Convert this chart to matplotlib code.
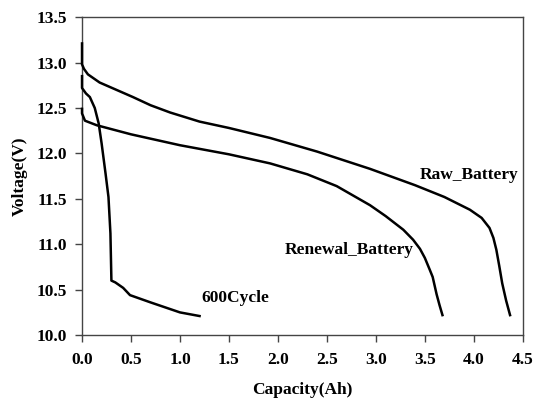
import numpy as np
import matplotlib.pyplot as plt

# Discharge curves
raw_cap = [0.0, 0.0, 0.02, 0.06, 0.18, 0.35, 0.52, 0.7, 0.9, 1.2, 1.5, 1.92, 2.4, 2.94, 3.4, 3.7, 3.96, 4.08, 4.16, 4.2, 4.23, 4.26, 4.29, 4.33, 4.37]
raw_v = [13.21, 12.98, 12.93, 12.87, 12.78, 12.7, 12.62, 12.53, 12.45, 12.35, 12.28, 12.17, 12.02, 11.83, 11.65, 11.52, 11.38, 11.29, 11.18, 11.07, 10.94, 10.76, 10.57, 10.38, 10.22]

ren_cap = [0.0, 0.0, 0.03, 0.15, 0.5, 1.0, 1.5, 1.92, 2.3, 2.6, 2.94, 3.1, 3.28, 3.38, 3.45, 3.5, 3.55, 3.58, 3.62, 3.65, 3.68]
ren_v = [12.49, 12.44, 12.36, 12.31, 12.21, 12.09, 11.99, 11.89, 11.77, 11.64, 11.43, 11.31, 11.16, 11.05, 10.95, 10.85, 10.72, 10.64, 10.45, 10.33, 10.22]

cyc_cap = [0.0, 0.0, 0.04, 0.08, 0.13, 0.17, 0.2, 0.24, 0.27, 0.29, 0.3, 0.34, 0.42, 0.49, 0.7, 1.0, 1.2]
cyc_v = [12.85, 12.72, 12.66, 12.62, 12.5, 12.33, 12.11, 11.78, 11.52, 11.12, 10.6, 10.58, 10.52, 10.44, 10.36, 10.25, 10.21]

plt.rcParams['font.family'] = ['Liberation Serif', 'DejaVu Serif']
plt.rcParams['font.weight'] = 'bold'

fig = plt.figure(figsize=(5.34, 3.98), dpi=100)
ax = fig.add_axes([0.1536, 0.158, 0.8254, 0.799])

for cap, v in [(raw_cap, raw_v), (ren_cap, ren_v), (cyc_cap, cyc_v)]:
    ax.plot(cap, v, color='black', lw=1.8, clip_on=False, zorder=3,
            solid_joinstyle='round')

ax.text(3.45, 11.76, 'Raw_Battery', fontsize=12.5, fontweight='bold', va='center')
ax.text(2.07, 10.94, 'Renewal_Battery', fontsize=12.5, fontweight='bold', va='center')
ax.text(1.22, 10.41, '600Cycle', fontsize=12.5, fontweight='bold', va='center')

ax.set_xlim(0, 4.5)
ax.set_ylim(10.0, 13.5)
ax.set_xticks(np.arange(0, 4.51, 0.5))
ax.set_yticks(np.arange(10.0, 13.51, 0.5))
ax.xaxis.set_major_formatter(plt.FormatStrFormatter('%.1f'))
ax.yaxis.set_major_formatter(plt.FormatStrFormatter('%.1f'))
ax.tick_params(direction='out', length=5, width=1, labelsize=12.5, color='#444')
ax.tick_params(axis='x', pad=7)
ax.tick_params(axis='y', pad=6)
for lab in ax.get_xticklabels() + ax.get_yticklabels():
    lab.set_fontweight('bold')
for s in ax.spines.values():
    s.set_color('#444')
    s.set_linewidth(1)

ax.set_xlabel('Capacity(Ah)', fontsize=12.5, fontweight='bold', labelpad=10)
ax.set_ylabel('Voltage(V)', fontsize=12.5, fontweight='bold', labelpad=6)

fig.savefig('out.png', dpi=100)
